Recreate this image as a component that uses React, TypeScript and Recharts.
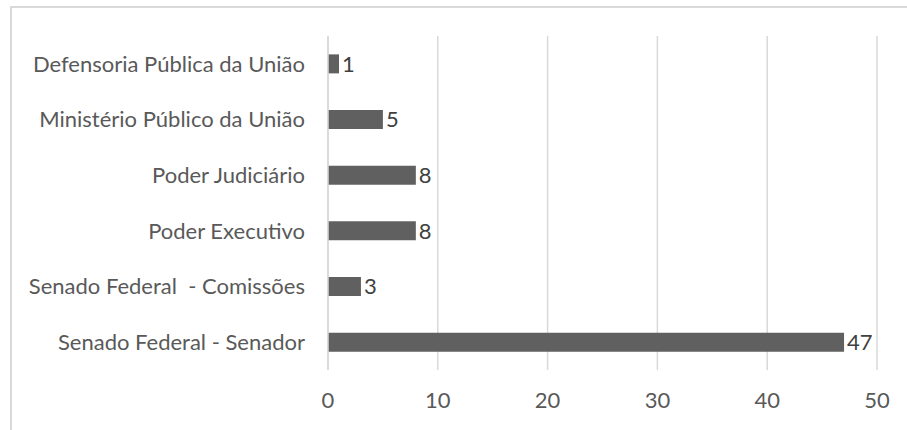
import { BarChart, Bar, XAxis, YAxis, CartesianGrid, LabelList } from 'recharts';

const categories = [
  'Defensoria Pública da União',
  'Ministério Público da União',
  'Poder Judiciário',
  'Poder Executivo',
  'Senado Federal \u00a0- Comissões',
  'Senado Federal - Senador',
];

const values = [1, 5, 8, 8, 3, 47];

const xTicks = [0, 10, 20, 30, 40, 50];

const data = categories.map((name, i) => ({ name, value: values[i] }));

const FONT = 'Lato, "Open Sans", sans-serif';
const TEXT = '#595959';
const GRID = '#d9d9d9';
const BAR = '#606060';

const App = () => {
  return (
    <div style={{ position: 'absolute', left: 0, top: 0, width: 907, height: 430, background: '#fff', overflow: 'hidden' }}>
      <div
        style={{
          position: 'absolute',
          left: 10,
          top: 6,
          width: 1000,
          height: 1000,
          border: `2px solid ${GRID}`,
        }}
      />
      <BarChart
        width={907}
        height={430}
        data={data}
        layout="vertical"
        barCategoryGap="33%"
        margin={{ top: 36, right: 30, bottom: 30, left: 0 }}
        style={{ position: 'absolute', left: 0, top: 0, fontFamily: FONT }}
      >
        <CartesianGrid horizontal={false} stroke={GRID} strokeWidth={1.5} />
        <XAxis
          type="number"
          domain={[0, 50]}
          ticks={xTicks}
          axisLine={false}
          tickLine={false}
          tickSize={0}
          tickMargin={22}
          height={30}
          tick={{ fill: TEXT, fontSize: 22, fontFamily: FONT }}
        />
        <YAxis
          type="category"
          dataKey="name"
          width={328}
          axisLine={{ stroke: GRID, strokeWidth: 1.5 }}
          tickLine={false}
          tickSize={0}
          tickMargin={23}
          interval={0}
          tick={{ fill: TEXT, fontSize: 22, fontFamily: FONT }}
        />
        <Bar dataKey="value" fill={BAR} isAnimationActive={false}>
          <LabelList
            dataKey="value"
            position="right"
            offset={3}
            style={{ fill: '#404040', fontSize: 22, fontFamily: FONT }}
          />
        </Bar>
      </BarChart>
    </div>
  );
};

export default App;
